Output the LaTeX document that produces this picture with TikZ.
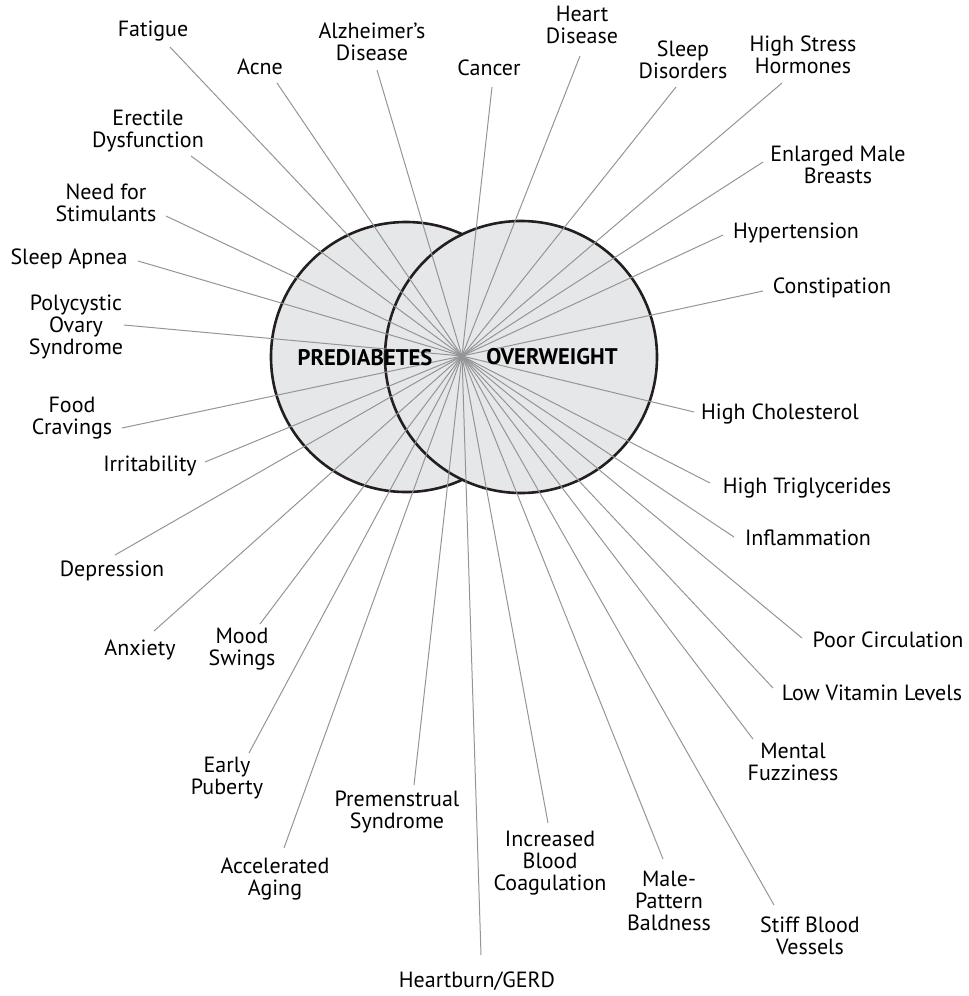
\documentclass[tikz,border=0pt]{standalone}
\usepackage{fontspec}
\setmainfont{PT Sans}

\definecolor{rimgray}{HTML}{231F20}
\definecolor{fillgray}{HTML}{E6E7E8}
\definecolor{raygray}{HTML}{939598}

\begin{document}
\begin{tikzpicture}[x=0.5pt, y=-0.5pt,
	ring/.style={draw=rimgray, line width=1.3pt, fill=fillgray},
	ray/.style={draw=raygray, line width=0.5pt},
	lab/.style={align=center, inner sep=0pt, font=\fontsize{11}{11}\selectfont},
	big/.style={inner sep=0pt, font=\fontsize{11.3}{12}\selectfont\bfseries}]
	\useasboundingbox (0,0) rectangle (969,996);

	\draw[ring] (406,357) circle [radius=135]; % prediabetes
	\draw[ring] (521,357) circle [radius=136]; % overweight
	\coordinate (hub) at (462,356);

	% ray ends
	\coordinate (fatigue-end) at (170,47);
	\coordinate (acne-end) at (277,83);
	\coordinate (alzheimer-end) at (377,70);
	\coordinate (cancer-end) at (492,87);
	\coordinate (heart-end) at (580,56);
	\coordinate (sleepdis-end) at (676,87);
	\coordinate (stress-end) at (782,83);
	\coordinate (breasts-end) at (763,162);
	\coordinate (hyper-end) at (723,235);
	\coordinate (constip-end) at (763,291);
	\coordinate (chol-end) at (694,412);
	\coordinate (trig-end) at (710,483);
	\coordinate (inflam-end) at (734,537);
	\coordinate (circ-end) at (802,638);
	\coordinate (vitamin-end) at (773,688);
	\coordinate (fuzzy-end) at (753,739);
	\coordinate (vessels-end) at (774,905);
	\coordinate (baldness-end) at (663,859);
	\coordinate (coag-end) at (548,823);
	\coordinate (gerd-end) at (481,955);
	\coordinate (pms-end) at (414,785);
	\coordinate (aging-end) at (284,848);
	\coordinate (puberty-end) at (249,753);
	\coordinate (mood-end) at (260,624);
	\coordinate (anxiety-end) at (154,631);
	\coordinate (depression-end) at (115,555);
	\coordinate (irrit-end) at (205,462);
	\coordinate (cravings-end) at (122,428);
	\coordinate (pcos-end) at (124,325);
	\coordinate (apnea-end) at (138,261);
	\coordinate (stimulants-end) at (166,216);
	\coordinate (erectile-end) at (191,156);

	\foreach \n in {fatigue,acne,alzheimer,cancer,heart,sleepdis,stress,breasts,hyper,constip,
		chol,trig,inflam,circ,vitamin,fuzzy,vessels,baldness,coag,gerd,pms,aging,puberty,
		mood,anxiety,depression,irrit,cravings,pcos,apnea,stimulants,erectile}
		\draw[ray] (hub) -- (\n-end);

	\node[big] (pre) at (365,358) {PREDIABETES};
	\node[big] (over) at (552,357) {OVERWEIGHT};

	% top
	\node[lab] (fatigue) at (153,31) {Fatigue};
	\node[lab] (acne) at (260,67) {Acne};
	\node[lab] (alzheimer) at (372,42) {Alzheimer’s\\Disease};
	\node[lab] (cancer) at (489,68) {Cancer};
	\node[lab] (heart) at (582,25) {Heart\\Disease};
	\node[lab] (sleepdis) at (683,60) {Sleep\\Disorders};
	\node[lab] (stress) at (803,55) {High Stress\\Hormones};
	% right
	\node[lab] (breasts) at (838,165) {Enlarged Male\\Breasts};
	\node[lab] (hyper) at (796,233) {Hypertension};
	\node[lab] (constip) at (832,288) {Constipation};
	\node[lab] (chol) at (780,414) {High Cholesterol};
	\node[lab] (trig) at (807,488) {High Triglycerides};
	\node[lab] (inflam) at (808,538) {Inflammation};
	\node[lab] (circ) at (888,640) {Poor Circulation};
	\node[lab] (vitamin) at (872,693) {Low Vitamin Levels};
	\node[lab] (fuzzy) at (793,762) {Mental\\Fuzziness};
	% bottom
	\node[lab] (vessels) at (810,936) {Stiff Blood\\Vessels};
	\node[lab] (baldness) at (669,901) {Male-\\Pattern\\Baldness};
	\node[lab] (coag) at (550,863) {Increased\\Blood\\Coagulation};
	\node[lab] (gerd) at (477,981) {Heartburn/GERD};
	\node[lab] (pms) at (397,812) {Premenstrual\\Syndrome};
	\node[lab] (aging) at (275,879) {Accelerated\\Aging};
	\node[lab] (puberty) at (227,778) {Early\\Puberty};
	\node[lab] (mood) at (242,649) {Mood\\Swings};
	% left
	\node[lab] (anxiety) at (140,650) {Anxiety};
	\node[lab] (depression) at (112,571) {Depression};
	\node[lab] (irrit) at (150,466) {Irritability};
	\node[lab] (cravings) at (72,418) {Food\\Cravings};
	\node[lab] (pcos) at (76,327) {Polycystic\\Ovary\\Syndrome};
	\node[lab] (apnea) at (69,259) {Sleep Apnea};
	\node[lab] (stimulants) at (106,203) {Need for\\Stimulants};
	\node[lab] (erectile) at (148,131) {Erectile\\Dysfunction};
\end{tikzpicture}
\end{document}
